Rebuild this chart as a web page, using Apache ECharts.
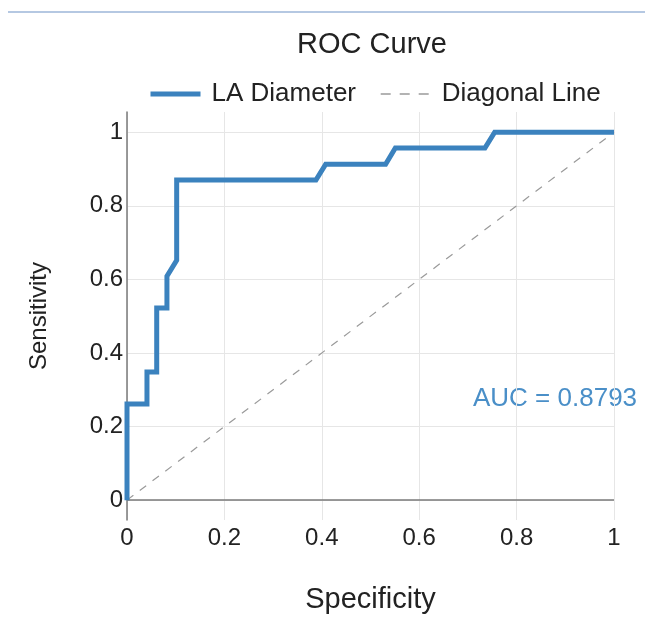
<!DOCTYPE html>
<html>
<head>
<meta charset="utf-8">
<script src="https://cdn.jsdelivr.net/npm/echarts@6/dist/echarts.min.js"></script>
<style>
html,body{margin:0;padding:0;background:#ffffff;}
#chart{width:645px;height:619px;}
</style>
</head>
<body>
<div id="chart"></div>
<script>
// ROC curve points (1 - specificity on x, sensitivity on y)
const fprValues = [0, 0, 0.041, 0.041, 0.061, 0.061, 0.082, 0.082, 0.102, 0.102, 0.388, 0.408, 0.531, 0.551, 0.735, 0.755, 1];
const tprValues = [0, 0.261, 0.261, 0.348, 0.348, 0.522, 0.522, 0.609, 0.652, 0.870, 0.870, 0.913, 0.913, 0.957, 0.957, 1, 1];
const diagX = [0, 1];
const diagY = [0, 1];
const yTicks = [0, 0.2, 0.4, 0.6, 0.8, 1];
const seriesNames = ['LA Diameter', 'Diagonal Line'];
const aucText = 'AUC = 0.8793';

const FONT = "'Liberation Sans', Arial, Helvetica, sans-serif";
const BLUE = '#3b82be';
const GRAY = '#9a9a9a';

const chart = echarts.init(document.getElementById('chart'), null, {renderer: 'canvas'});
const fmt = v => (Math.abs(v) < 1e-9 ? '0' : (Math.abs(v - 1) < 1e-9 ? '1' : String(+v.toFixed(1))));

chart.setOption({
  backgroundColor: '#ffffff',
  animation: false,
  title: {
    text: 'ROC Curve',
    left: 367,
    textAlign: 'center',
    top: 25,
    textStyle: {fontFamily: FONT, fontSize: 29, fontWeight: 'normal', color: '#222'}
  },
  legend: {
    left: 143,
    top: 76,
    itemWidth: 50,
    itemHeight: 14,
    itemGap: 24,
    itemStyle: {opacity: 0},
    data: [
      {name: seriesNames[0], lineStyle: {width: 5, color: BLUE}},
      {name: seriesNames[1], lineStyle: {width: 1.4, color: GRAY, type: [10, 9]}}
    ],
    textStyle: {fontFamily: FONT, fontSize: 26, color: '#222', padding: [0, 0, 0, 6]}
  },
  grid: {left: 127, right: 31, top: 112, bottom: 97, containLabel: false},
  xAxis: {
    type: 'value',
    min: 0,
    max: 1,
    interval: 0.2,
    name: 'Specificity',
    nameLocation: 'middle',
    nameGap: 65,
    nameTextStyle: {fontFamily: FONT, fontSize: 29, color: '#222'},
    axisLine: {show: false, onZero: false},
    axisTick: {show: false},
    axisLabel: {fontFamily: FONT, fontSize: 24, color: '#222', margin: 6, formatter: fmt},
    splitLine: {show: true, lineStyle: {color: '#e6e6e6', width: 1}}
  },
  yAxis: {
    type: 'value',
    min: -0.054,
    max: 1.055,
    name: 'Sensitivity',
    nameLocation: 'middle',
    nameGap: 76,
    nameTextStyle: {fontFamily: FONT, fontSize: 24, color: '#222'},
    axisLine: {show: true, lineStyle: {color: '#7a7a7a', width: 1.5}},
    axisTick: {show: false, customValues: yTicks},
    axisLabel: {fontFamily: FONT, fontSize: 24, color: '#222', margin: 4, customValues: yTicks, formatter: fmt},
    splitLine: {show: true, lineStyle: {color: '#e6e6e6', width: 1}}
  },
  series: [
    {
      name: seriesNames[0],
      type: 'line',
      data: fprValues.map((x, i) => [x, tprValues[i]]),
      symbol: 'none',
      lineStyle: {color: BLUE, width: 5, join: 'miter'},
      itemStyle: {color: BLUE},
      z: 5
    },
    {
      name: seriesNames[1],
      type: 'line',
      data: diagX.map((x, i) => [x, diagY[i]]),
      symbol: 'none',
      lineStyle: {color: GRAY, width: 1.2, type: [8, 8]},
      itemStyle: {color: GRAY},
      z: 3,
      markLine: {
        silent: true,
        symbol: 'none',
        label: {show: false},
        lineStyle: {color: '#7a7a7a', width: 1.5, type: 'solid'},
        data: [{yAxis: 0}]
      }
    }
  ],
  graphic: [
    {type: 'line', shape: {x1: 8, y1: 12, x2: 645, y2: 12}, style: {stroke: '#b5c8e2', lineWidth: 2}},
    {type: 'text', x: 473, y: 399, style: {text: aucText, fill: '#4a8fc8', font: "26px " + FONT, textVerticalAlign: 'middle'}}
  ]
});
</script>
</body>
</html>
